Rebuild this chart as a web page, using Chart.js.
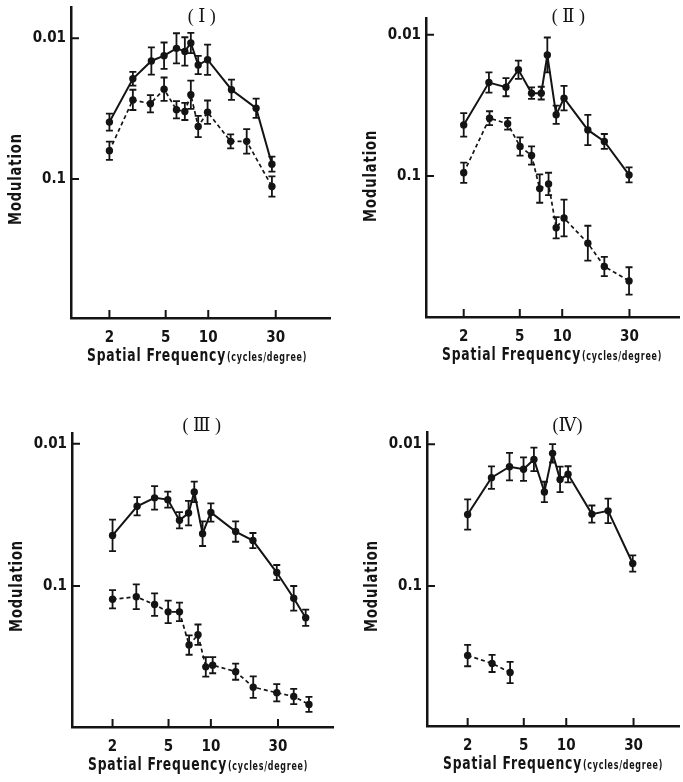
<!DOCTYPE html>
<html>
<head>
<meta charset="utf-8">
<script src="https://cdn.jsdelivr.net/npm/chart.js@4/dist/chart.umd.min.js"></script>
<style>
  html, body { margin: 0; padding: 0; background: #fff; overflow: hidden; }
  #wrap { position: relative; width: 683px; height: 782px; }
  canvas { position: absolute; }
</style>
</head>
<body>
<div id="wrap">
  <canvas id="p1" width="341" height="390" style="left:0;top:0"></canvas>
  <canvas id="p2" width="342" height="390" style="left:341px;top:0"></canvas>
  <canvas id="p3" width="341" height="392" style="left:0;top:390px"></canvas>
  <canvas id="p4" width="342" height="392" style="left:341px;top:390px"></canvas>
</div>
<script>
// ---- tick labels ----
const xTicks = [2, 5, 10, 30];
const yTicks = [0.01, 0.1];

// ---- (I) ----
const p1SolidFreq = [2, 2.93, 3.96, 4.87, 5.96, 6.83, 7.53, 8.49, 9.89, 14.6, 21.8, 28.2];
const p1SolidMod  = [0.0394, 0.0194, 0.0145, 0.0133, 0.0118, 0.0124, 0.0108, 0.0155, 0.0142, 0.0232, 0.0314, 0.0784];
const p1SolidErr  = [1.15, 1.12, 1.25, 1.24, 1.28, 1.26, 1.18, 1.16, 1.28, 1.18, 1.17, 1.13];
const p1DashFreq  = [2, 2.93, 3.9, 4.87, 5.96, 6.83, 7.53, 8.49, 9.89, 14.4, 18.7, 28.2];
const p1DashMod   = [0.063, 0.0274, 0.0292, 0.023, 0.0322, 0.0331, 0.0252, 0.0423, 0.0335, 0.054, 0.054, 0.113];
const p1DashErr   = [1.16, 1.18, 1.15, 1.21, 1.15, 1.15, 1.26, 1.19, 1.21, 1.12, 1.22, 1.18];

// ---- (II) ----
const p2SolidFreq = [2, 3.02, 3.99, 4.89, 6.06, 7.1, 7.84, 9.06, 10.3, 15.2, 19.9, 29.8];
const p2SolidMod  = [0.0435, 0.0218, 0.0235, 0.0177, 0.0259, 0.0259, 0.0139, 0.0369, 0.0281, 0.0472, 0.057, 0.0984];
const p2SolidErr  = [1.21, 1.18, 1.16, 1.16, 1.10, 1.11, 1.33, 1.16, 1.22, 1.28, 1.13, 1.13];
const p2DashFreq  = [2, 3.05, 4.1, 5.02, 6.06, 6.92, 8.0, 9.06, 10.3, 15.2, 19.9, 29.8];
const p2DashMod   = [0.095, 0.039, 0.0427, 0.0619, 0.0717, 0.123, 0.114, 0.233, 0.199, 0.30, 0.439, 0.555];
const p2DashErr   = [1.18, 1.12, 1.10, 1.16, 1.16, 1.26, 1.2, 1.19, 1.35, 1.33, 1.17, 1.25];

// ---- (III) ----
const p3SolidFreq = [2, 2.99, 3.98, 4.94, 5.98, 6.94, 7.62, 8.73, 10, 15, 19.9, 29.4, 38.8, 47.2];
const p3SolidMod  = [0.0441, 0.0275, 0.024, 0.0247, 0.0345, 0.0307, 0.0218, 0.0429, 0.0304, 0.0414, 0.0479, 0.0804, 0.122, 0.167];
const p3SolidErr  = [1.29, 1.16, 1.21, 1.14, 1.14, 1.22, 1.18, 1.22, 1.16, 1.18, 1.13, 1.13, 1.22, 1.14];
const p3DashFreq  = [2, 2.95, 3.98, 4.97, 5.98, 7.0, 8.1, 9.2, 10.3, 15, 20, 29.4, 38.8, 49.8];
const p3DashMod   = [0.124, 0.119, 0.135, 0.152, 0.152, 0.26, 0.22, 0.37, 0.36, 0.40, 0.514, 0.563, 0.598, 0.68];
const p3DashErr   = [1.16, 1.22, 1.2, 1.2, 1.16, 1.17, 1.18, 1.17, 1.14, 1.14, 1.19, 1.15, 1.13, 1.13];

// ---- (IV) ----
const p4SolidFreq = [2, 2.95, 3.96, 4.98, 5.9, 7.0, 8.0, 9.04, 10.3, 15.2, 19.8, 29.6];
const p4SolidMod  = [0.0313, 0.0172, 0.0144, 0.015, 0.0128, 0.0217, 0.0116, 0.0177, 0.0163, 0.0311, 0.0295, 0.0693];
const p4SolidErr  = [1.28, 1.2, 1.25, 1.21, 1.21, 1.18, 1.16, 1.23, 1.14, 1.15, 1.22, 1.14];
const p4DashFreq  = [2, 2.98, 4.0];
const p4DashMod   = [0.309, 0.351, 0.407];
const p4DashErr   = [1.19, 1.15, 1.19];

const INK = '#141414';
const NARROW = "'Liberation Sans Narrow', 'DejaVu Sans Condensed', 'DejaVu Sans', sans-serif";

const pts = (xs, ys) => xs.map((x, i) => ({ x: x, y: ys[i] }));

// vertical error bars, bar ends at value / err and value * err
const errorBars = {
  id: 'errorBars',
  afterDatasetsDraw(chart) {
    const ctx = chart.ctx;
    const ys = chart.scales.y;
    ctx.save();
    ctx.strokeStyle = INK;
    ctx.lineWidth = 1.8;
    chart.data.datasets.forEach((ds, i) => {
      const meta = chart.getDatasetMeta(i);
      meta.data.forEach((pt, j) => {
        const v = ds.data[j].y, e = ds.errors[j];
        const y1 = ys.getPixelForValue(v / e);
        const y2 = ys.getPixelForValue(v * e);
        const x = pt.x, c = 3.5;
        ctx.beginPath();
        ctx.moveTo(x, y1); ctx.lineTo(x, y2);
        ctx.moveTo(x - c, y1); ctx.lineTo(x + c, y1);
        ctx.moveTo(x - c, y2); ctx.lineTo(x + c, y2);
        ctx.stroke();
      });
    });
    ctx.restore();
  }
};

// inward tick marks, panel number and axis titles
const decorations = {
  id: 'decorations',
  afterDraw(chart, args, opts) {
    const ctx = chart.ctx;
    const a = chart.chartArea;
    const xs = chart.scales.x, ys = chart.scales.y;
    ctx.save();
    ctx.strokeStyle = INK;
    ctx.fillStyle = INK;
    ctx.lineWidth = 2;
    ctx.beginPath();
    xTicks.forEach(v => {
      const x = xs.getPixelForValue(v);
      ctx.moveTo(x, a.bottom); ctx.lineTo(x, a.bottom - 8);
    });
    yTicks.forEach(v => {
      const y = ys.getPixelForValue(v);
      ctx.moveTo(a.left, y); ctx.lineTo(a.left + 8, y);
    });
    ctx.stroke();

    // panel number
    ctx.font = "18px 'Liberation Serif', 'DejaVu Serif', serif";
    ctx.textAlign = 'center';
    ctx.textBaseline = 'middle';
    ctx.fillText(opts.label, opts.labelX, opts.labelY);

    // y title
    ctx.save();
    ctx.translate(a.left - 54, ys.getPixelForValue(0.1));
    ctx.rotate(-Math.PI / 2);
    ctx.font = "bold 17px " + NARROW;
    ctx.letterSpacing = '1px';
    ctx.textAlign = 'center';
    ctx.textBaseline = 'middle';
    ctx.fillText('Modulation', 0, 0, 92);
    ctx.restore();

    // x title, two sizes
    const base = a.bottom + 43;
    const x0 = a.left + 16;
    ctx.textAlign = 'left';
    ctx.textBaseline = 'alphabetic';
    ctx.letterSpacing = '1px';
    ctx.font = "bold 17px " + NARROW;
    ctx.fillText('Spatial Frequency', x0, base, 139);
    ctx.font = "bold 12px " + NARROW;
    ctx.fillText('(cycles/degree)', x0 + 140, base, 80);
    ctx.restore();
  }
};

function makePanel(id, cfg) {
  const canvas = document.getElementById(id);
  const W = canvas.width, H = canvas.height;
  const line = (data, errors, dashed) => ({
    data: data,
    errors: errors,
    borderColor: INK,
    borderWidth: dashed ? 1.7 : 2,
    borderDash: dashed ? [4, 3] : [],
    tension: 0,
    pointRadius: 3.7,
    pointBackgroundColor: INK,
    pointBorderWidth: 0,
    fill: false
  });
  return new Chart(canvas, {
    type: 'line',
    data: {
      datasets: [
        line(pts(cfg.solidFreq, cfg.solidMod), cfg.solidErr, false),
        line(pts(cfg.dashFreq, cfg.dashMod), cfg.dashErr, true)
      ]
    },
    options: {
      responsive: false,
      animation: false,
      events: [],
      layout: { padding: { left: 0, top: cfg.area.top, right: W - cfg.area.right, bottom: 0 } },
      plugins: {
        legend: { display: false },
        tooltip: { enabled: false },
        decorations: { label: cfg.label, labelX: cfg.labelPos[0], labelY: cfg.labelPos[1] }
      },
      scales: {
        x: {
          type: 'logarithmic',
          min: cfg.xRange[0],
          max: cfg.xRange[1],
          grid: { drawOnChartArea: false, drawTicks: false },
          border: { display: true, color: INK, width: 2.5 },
          ticks: {
            color: INK,
            padding: 11,
            autoSkip: false,
            maxRotation: 0,
            font: { family: NARROW, size: 15, weight: 'bold' },
            callback: v => String(v)
          },
          afterBuildTicks: s => { s.ticks = xTicks.map(v => ({ value: v })); },
          afterFit: s => {
            s.height = H - cfg.area.bottom;
            s.paddingLeft = 0; s.paddingRight = 0;
          }
        },
        y: {
          type: 'logarithmic',
          reverse: true,
          min: cfg.yRange[0],
          max: cfg.yRange[1],
          grid: { drawOnChartArea: false, drawTicks: false },
          border: { display: true, color: INK, width: 2.5 },
          ticks: {
            color: INK,
            padding: 5,
            autoSkip: false,
            font: { family: NARROW, size: 15, weight: 'bold' },
            callback: v => String(v)
          },
          afterBuildTicks: s => { s.ticks = yTicks.map(v => ({ value: v })); },
          afterFit: s => {
            s.width = cfg.area.left;
            s.paddingTop = 0; s.paddingBottom = 0;
          }
        }
      }
    },
    plugins: [errorBars, decorations]
  });
}

makePanel('p1', {
  label: '( Ⅰ )', labelPos: [201.7, 17.5],
  area: { left: 71, top: 7, right: 330, bottom: 318 },
  xRange: [1.07, 72.6], yRange: [0.006, 0.97],
  solidFreq: p1SolidFreq, solidMod: p1SolidMod, solidErr: p1SolidErr,
  dashFreq: p1DashFreq, dashMod: p1DashMod, dashErr: p1DashErr
});
makePanel('p2', {
  label: '( Ⅱ )', labelPos: [227.3, 17.5],
  area: { left: 85, top: 18, right: 342, bottom: 317 },
  xRange: [1.08, 67.4], yRange: [0.0076, 1.0],
  solidFreq: p2SolidFreq, solidMod: p2SolidMod, solidErr: p2SolidErr,
  dashFreq: p2DashFreq, dashMod: p2DashMod, dashErr: p2DashErr
});
makePanel('p3', {
  label: '( Ⅲ )', labelPos: [201.7, 36.7],
  area: { left: 72, top: 43, right: 333, bottom: 337 },
  xRange: [1.03, 73.8], yRange: [0.0084, 0.98],
  solidFreq: p3SolidFreq, solidMod: p3SolidMod, solidErr: p3SolidErr,
  dashFreq: p3DashFreq, dashMod: p3DashMod, dashErr: p3DashErr
});
makePanel('p4', {
  label: '(Ⅳ)', labelPos: [226.5, 36.7],
  area: { left: 86, top: 42, right: 342, bottom: 336 },
  xRange: [1.03, 63], yRange: [0.0082, 0.97],
  solidFreq: p4SolidFreq, solidMod: p4SolidMod, solidErr: p4SolidErr,
  dashFreq: p4DashFreq, dashMod: p4DashMod, dashErr: p4DashErr
});
</script>
</body>
</html>
